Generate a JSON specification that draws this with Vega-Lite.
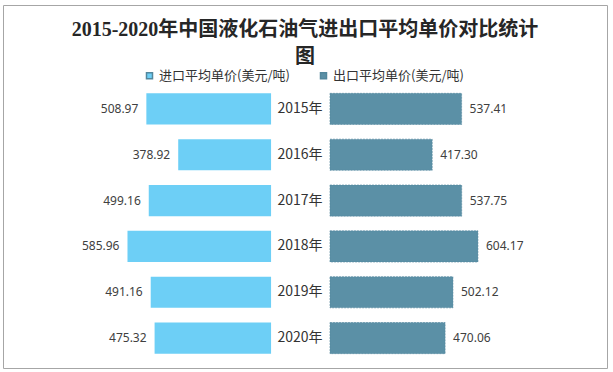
{
  "$schema": "https://vega.github.io/schema/vega-lite/v6.json",
  "width": 613,
  "height": 372,
  "autosize": {"type": "fit", "contains": "padding"},
  "padding": {"left": 3, "top": 5, "right": 6, "bottom": 4},
  "background": "white",
  "title": {
    "text": ["2015-2020年中国液化石油气进出口平均单价对比统计", "图"],
    "font": "Liberation Serif, Noto Sans CJK SC",
    "fontSize": 20,
    "fontWeight": "bold",
    "color": "#262626",
    "lineHeight": 27,
    "anchor": "middle",
    "frame": "group",
    "offset": -62
  },
  "data": {
    "values": [
      {"year": "2015年", "imp": 508.97, "exp": 537.41},
      {"year": "2016年", "imp": 378.92, "exp": 417.30},
      {"year": "2017年", "imp": 499.16, "exp": 537.75},
      {"year": "2018年", "imp": 585.96, "exp": 604.17},
      {"year": "2019年", "imp": 491.16, "exp": 502.12},
      {"year": "2020年", "imp": 475.32, "exp": 470.06}
    ]
  },
  "encoding": {
    "y": {
      "field": "year",
      "type": "nominal",
      "sort": null,
      "axis": null,
      "scale": {"range": [81, 356], "paddingInner": 0.32, "paddingOuter": 0.16}
    }
  },
  "layer": [
    {
      "encoding": {
        "x": {
          "field": "imp",
          "type": "quantitative",
          "axis": null,
          "scale": {"domain": [-1371, 1094], "reverse": true, "nice": false, "zero": false}
        }
      },
      "layer": [
        {
          "mark": {"type": "bar"},
          "encoding": {
            "color": {
              "datum": "进口平均单价(美元/吨)",
              "type": "nominal",
              "scale": {
                "domain": ["进口平均单价(美元/吨)", "出口平均单价(美元/吨)"],
                "range": ["#6DCFF6", "#5B90A6"]
              },
              "legend": {
                "orient": "none",
                "legendX": 140,
                "legendY": 64,
                "direction": "horizontal",
                "title": null,
                "symbolType": "square",
                "symbolSize": 36,
                "labelFont": "Noto Sans CJK SC",
                "labelFontSize": 13,
                "labelColor": "#333333",
                "labelOffset": 3,
                "labelLimit": 300,
                "columnPadding": 27
              }
            }
          }
        },
        {
          "mark": {"type": "text", "align": "right", "baseline": "middle", "dx": -8, "font": "Noto Sans", "fontSize": 12, "color": "#404040"},
          "encoding": {
            "text": {"field": "imp", "type": "quantitative", "format": ".2f"}
          }
        },
        {
          "mark": {"type": "text", "align": "center", "baseline": "middle", "dx": 29, "font": "Noto Sans CJK SC", "fontSize": 14, "color": "#333333"},
          "encoding": {
            "x": {"datum": 0, "type": "quantitative"},
            "text": {"field": "year", "type": "nominal"}
          }
        }
      ]
    },
    {
      "encoding": {
        "x": {
          "field": "exp",
          "type": "quantitative",
          "axis": null,
          "scale": {"domain": [-1335, 1131], "nice": false, "zero": false}
        }
      },
      "layer": [
        {
          "mark": {"type": "bar", "stroke": "#53879D", "strokeWidth": 0.6, "strokeDash": [2, 1]},
          "encoding": {
            "color": {"datum": "出口平均单价(美元/吨)", "type": "nominal"}
          }
        },
        {
          "mark": {"type": "text", "align": "left", "baseline": "middle", "dx": 8, "font": "Noto Sans", "fontSize": 12, "color": "#404040"},
          "encoding": {
            "text": {"field": "exp", "type": "quantitative", "format": ".2f"}
          }
        }
      ]
    }
  ],
  "resolve": {"scale": {"x": "independent"}},
  "config": {
    "view": {"stroke": "#A6A6A6", "strokeWidth": 1}
  }
}
